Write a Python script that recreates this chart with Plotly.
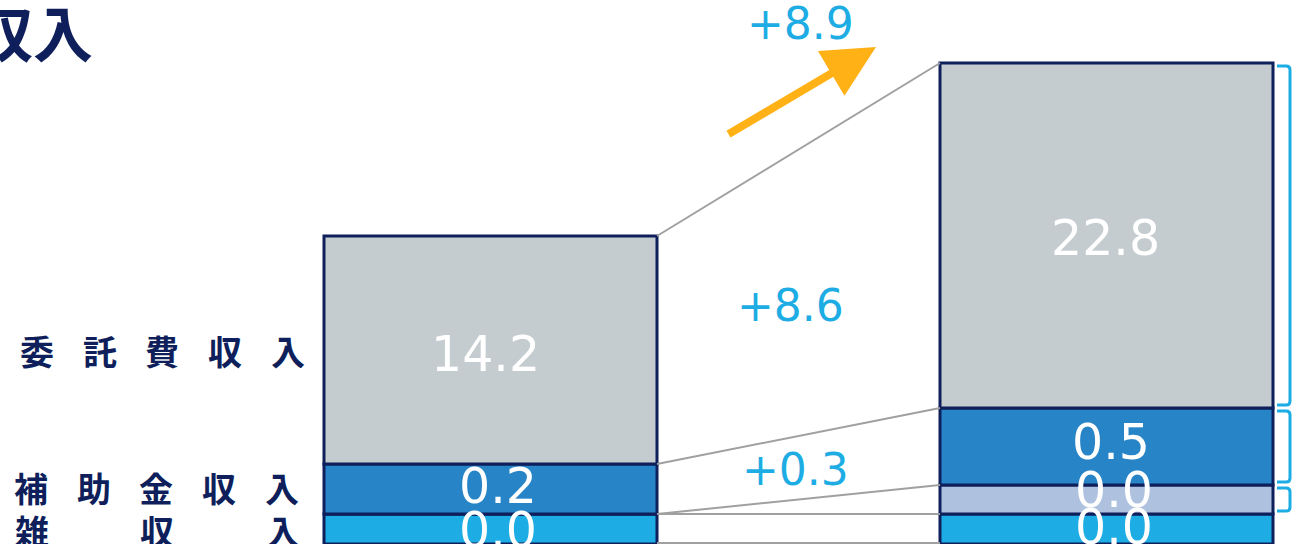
import plotly.graph_objects as go

# ---------------- data ----------------
bars = ["前年度", "今年度"]              # two stacked columns (left / right)
series_names = ["雑収入", "その他", "補助金収入", "委託費収入"]   # bottom -> top
values_zatsu = [0.0, 0.0]
values_other = [None, 0.0]
values_hojo = [0.2, 0.5]
values_itaku = [14.2, 22.8]
# visual segment heights as drawn in the picture (chart units, not to data scale)
height_zatsu = [30, 30]
height_other = [0, 29]
height_hojo = [50, 77]
height_itaku = [228, 345]
row_labels = ["委託費収入", "補助金収入", "雑\u3000収\u3000入"]
title_text = "収入"

# ---------------- styles ----------------
W, H = 1295, 544
NAVY = "#0E1F5B"
CYAN = "#1DADE4"
colors = ["#1DADE4", "#AEC2E0", "#2784C7", "#C4CCD0"]
BAR_W = 333 / 616
CJK = "Noto Sans CJK JP"
NUM = "DejaVu Sans"


def px2x(px):
    return (px - 490.5) / 616


def py2y(py):
    return H - py


heights = [height_zatsu, height_other, height_hojo, height_itaku]
values = [values_zatsu, values_other, values_hojo, values_itaku]
xs = [0, 1]

fig = go.Figure()

# cumulative boundaries
bases = []
cum = [0, 0]
for h in heights:
    bases.append(cum[:])
    cum = [cum[i] + h[i] for i in range(2)]
tops = [[bases[k][i] + heights[k][i] for i in range(2)] for k in range(4)]

# connectors (grey lines between bars)
conn_levels = [[1, 1]] + tops
for lv in conn_levels:
    fig.add_trace(go.Scatter(
        x=[xs[0] + BAR_W / 2, xs[1] - BAR_W / 2], y=lv, mode="lines",
        line=dict(color="#A0A0A0", width=2), hoverinfo="skip", showlegend=False))

for k in range(4):
    fig.add_trace(go.Bar(
        x=xs, y=heights[k], base=bases[k], width=BAR_W, name=series_names[k],
        marker=dict(color=colors[k], line=dict(color=NAVY, width=3)),
        showlegend=False, hoverinfo="skip"))

annotations = []
yshift = {(0, 0): -1, (0, 1): 2, (1, 0): -1, (1, 1): 9, (2, 0): 3, (2, 1): 4, (3, 0): -4, (3, 1): -3}
xshift = {(0, 0): 7, (0, 1): 7, (1, 0): 7, (1, 1): 7, (2, 0): 7, (2, 1): 4, (3, 0): -5, (3, 1): -1}
for k in range(4):
    for i in range(2):
        v = values[k][i]
        if v is None:
            continue
        annotations.append(dict(
            x=xs[i], y=bases[k][i] + heights[k][i] / 2, xref="x", yref="y",
            text=f"{v:.1f}", showarrow=False, yshift=yshift[(k, i)],
            xshift=xshift[(k, i)],
            font=dict(family=NUM, size=49, color="white")))

# deltas
d_itaku = values_itaku[1] - values_itaku[0]
d_hojo = values_hojo[1] - values_hojo[0]
total0 = sum(v for v in [values_zatsu[0], values_hojo[0], values_itaku[0]] if v is not None)
total1 = sum(v for v in [values_zatsu[1], values_other[1], values_hojo[1], values_itaku[1]] if v is not None)
d_total = total1 - total0
for txt, px, py in [(d_total, 800, 23), (d_itaku, 790, 305), (d_hojo, 795, 469)]:
    annotations.append(dict(
        x=px2x(px), y=py2y(py), xref="x", yref="y", text=f"+{txt:.1f}",
        showarrow=False, font=dict(family=NUM, size=44, color=CYAN)))

# orange arrow
annotations.append(dict(
    x=px2x(876), y=py2y(47), ax=px2x(727), ay=py2y(135), xref="x", yref="y",
    axref="x", ayref="y", text="", showarrow=True, arrowhead=2, arrowsize=1.3,
    arrowwidth=8, arrowcolor="#FFB115", standoff=0, startstandoff=0))

# row labels (one annotation per character slot)
row_starts = [37, 31, 32]
row_y = [bases[3][0] + heights[3][0] / 2, bases[2][0] + heights[2][0] / 2 + 2,
         bases[0][0] + heights[0][0] / 2 - 1]
for r, lab in enumerate(row_labels):
    chars = [c for c in lab]
    for j, c in enumerate(chars):
        if c == "\u3000":
            continue
        annotations.append(dict(
            x=px2x(row_starts[r] + 62.7 * j), y=row_y[r], xref="x", yref="y",
            text=f"<b>{c}</b>", showarrow=False,
            font=dict(family=CJK, size=34, color=NAVY)))

# title (partially cropped at the left edge)
annotations.append(dict(
    x=95 / W, y=1 - 30 / H, xref="paper", yref="paper", xanchor="right",
    yanchor="middle", text=f"<b>{title_text}</b>", showarrow=False,
    font=dict(family=CJK, size=60, color=NAVY)))

# brackets on the right side of the right bar
shapes = []
bx0, bx1 = px2x(1277), px2x(1290)
r = 4
for k in [1, 2, 3]:
    yt = tops[k][1] - 3
    yb = bases[k][1] + 3
    path = (f"M {bx0},{yt} L {bx1 - 0.006},{yt} Q {bx1},{yt} {bx1},{yt - r} "
            f"L {bx1},{yb + r} Q {bx1},{yb} {bx1 - 0.006},{yb} L {bx0},{yb}")
    shapes.append(dict(type="path", path=path, xref="x", yref="y",
                       line=dict(color=CYAN, width=3)))

fig.update_layout(
    width=W, height=H, margin=dict(l=0, r=0, t=0, b=0),
    paper_bgcolor="white", plot_bgcolor="white", barmode="overlay",
    xaxis=dict(range=[px2x(0), px2x(W)], visible=False, fixedrange=True),
    yaxis=dict(range=[0, H], visible=False, fixedrange=True),
    annotations=annotations, shapes=shapes, showlegend=False)

fig.write_html("out.html", config={"displayModeBar": False},
               post_script="document.body.style.margin='0';")
